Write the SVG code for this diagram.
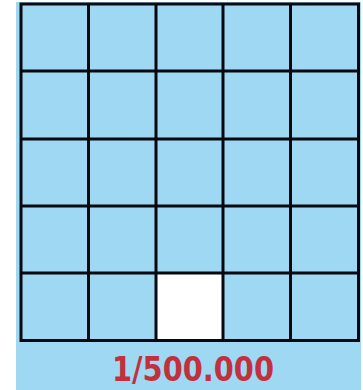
<svg xmlns="http://www.w3.org/2000/svg" width="363" height="390" viewBox="0 0 363 390">
<style>
.bg{fill:#9ed8f3}
.cell{fill:none;stroke:#080810;stroke-width:3}
.lbl{font-family:"DejaVu Sans Condensed","DejaVu Sans",sans-serif;font-weight:bold;font-size:33px;fill:#c2303e}
</style>
<rect class="bg" x="16" y="2" width="345" height="388"/>
<g id="white-cell"><rect x="157" y="273" width="66" height="67" fill="#ffffff"/></g>
<g id="grid" class="cell">
<rect x="21" y="4" width="337.5" height="336.5"/>
<line x1="88.5" y1="4" x2="88.5" y2="340.5"/>
<line x1="156" y1="4" x2="156" y2="340.5"/>
<line x1="223" y1="4" x2="223" y2="340.5"/>
<line x1="290.5" y1="4" x2="290.5" y2="340.5"/>
<line x1="21" y1="71" x2="358.5" y2="71"/>
<line x1="21" y1="139" x2="358.5" y2="139"/>
<line x1="21" y1="206" x2="358.5" y2="206"/>
<line x1="21" y1="273" x2="358.5" y2="273"/>
</g>
<g id="label"><text class="lbl" x="112" y="381" textLength="162" lengthAdjust="spacingAndGlyphs">1/500.000</text></g>
</svg>
